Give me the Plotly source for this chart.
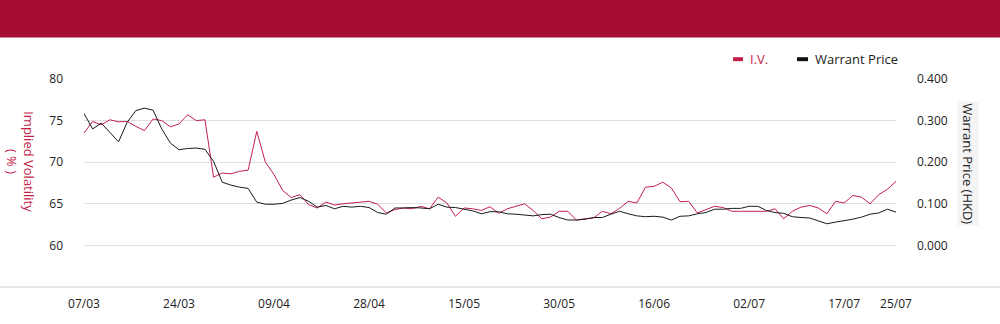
import plotly.graph_objects as go

dates = [
    "07/03", "10/03", "11/03", "12/03", "13/03", "14/03", "17/03", "18/03", "19/03", "20/03",
    "21/03", "24/03", "25/03", "26/03", "27/03", "28/03", "31/03", "01/04", "02/04", "03/04",
    "07/04", "08/04", "09/04", "10/04", "11/04", "14/04", "15/04", "16/04", "17/04", "22/04",
    "23/04", "24/04", "25/04", "28/04", "29/04", "30/04", "02/05", "06/05", "07/05", "08/05",
    "09/05", "12/05", "13/05", "14/05", "15/05", "16/05", "19/05", "20/05", "21/05", "22/05",
    "23/05", "26/05", "27/05", "28/05", "29/05", "30/05", "02/06", "03/06", "04/06", "05/06",
    "06/06", "09/06", "10/06", "11/06", "12/06", "13/06", "16/06", "17/06", "18/06", "19/06",
    "20/06", "23/06", "24/06", "25/06", "26/06", "27/06", "30/06", "02/07", "03/07", "04/07",
    "07/07", "08/07", "09/07", "10/07", "11/07", "14/07", "15/07", "16/07", "17/07", "18/07",
    "21/07", "22/07", "23/07", "24/07", "25/07",
]

iv = [
    73.5, 74.9, 74.5, 75.1, 74.85, 74.9, 74.3, 73.8, 75.2, 75.0,
    74.25, 74.6, 75.7, 75.0, 75.1, 68.2, 68.7, 68.6, 68.9, 69.05,
    73.7, 70.0, 68.5, 66.6, 65.75, 66.1, 64.9, 64.5, 65.2, 64.85,
    65.0, 65.1, 65.25, 65.3, 64.95, 63.9, 64.3, 64.5, 64.4, 64.7,
    64.4, 65.8, 65.1, 63.5, 64.5, 64.4, 64.2, 64.65, 63.85, 64.4,
    64.7, 65.0, 64.2, 63.2, 63.4, 64.1, 64.1, 63.05, 63.2, 63.3,
    64.1, 63.8, 64.45, 65.3, 65.1, 67.0, 67.1, 67.6, 66.9, 65.25,
    65.3, 63.9, 64.3, 64.7, 64.55, 64.1, 64.1, 64.1, 64.1, 64.1,
    64.4, 63.2, 64.1, 64.6, 64.8, 64.5, 63.8, 65.3, 65.1, 66.0,
    65.8, 65.0, 66.1, 66.75, 67.7,
]

price = [
    0.317, 0.280, 0.294, 0.272, 0.249, 0.296, 0.324, 0.330, 0.325, 0.280,
    0.246, 0.230, 0.233, 0.234, 0.231, 0.202, 0.152, 0.145, 0.140, 0.137,
    0.104, 0.099, 0.099, 0.101, 0.109, 0.115, 0.106, 0.092, 0.096, 0.088,
    0.094, 0.092, 0.094, 0.091, 0.079, 0.075, 0.090, 0.090, 0.091, 0.090,
    0.088, 0.099, 0.092, 0.091, 0.087, 0.083, 0.076, 0.081, 0.081, 0.076,
    0.075, 0.073, 0.071, 0.074, 0.075, 0.067, 0.061, 0.061, 0.063, 0.067,
    0.067, 0.075, 0.082, 0.076, 0.071, 0.069, 0.070, 0.068, 0.061, 0.070,
    0.071, 0.076, 0.079, 0.087, 0.087, 0.089, 0.089, 0.094, 0.094, 0.084,
    0.079, 0.077, 0.069, 0.067, 0.066, 0.059, 0.052, 0.056, 0.059, 0.063,
    0.068, 0.075, 0.078, 0.087, 0.080,
]

tick_labels = ["07/03", "24/03", "09/04", "28/04", "15/05", "30/05", "16/06", "02/07", "17/07", "25/07"]
iv_ticks = [60, 65, 70, 75, 80]
price_ticks = [0.0, 0.1, 0.2, 0.3, 0.4]

RED = "#c41f4a"
HEADER = "#a50d32"
FONT = "Open Sans"

W, H = 1000, 324
L, R, T, B = 84, 896, 79, 289


def px(x):
    return (x - L) / (R - L)


def py(y):
    return (B - y) / (B - T)


fig = go.Figure()
fig.add_trace(go.Scatter(x=dates, y=iv, mode="lines", name="I.V.",
                         line=dict(color=RED, width=1), yaxis="y"))
fig.add_trace(go.Scatter(x=dates, y=price, mode="lines", name="Warrant Price",
                         line=dict(color="#1a1a1a", width=1), yaxis="y2"))

shapes = [
    dict(type="rect", xref="paper", yref="paper", x0=px(-5), x1=px(1005),
         y0=py(37), y1=py(-5), fillcolor=HEADER, line=dict(width=0), layer="above"),
    dict(type="line", xref="paper", yref="paper", x0=px(0), x1=px(1000),
         y0=0, y1=0, line=dict(color="#cccccc", width=1)),
    dict(type="rect", xref="paper", yref="paper", x0=px(733), x1=px(743),
         y0=py(61), y1=py(57), fillcolor=RED, line=dict(width=0)),
    dict(type="rect", xref="paper", yref="paper", x0=px(797), x1=px(808),
         y0=py(61), y1=py(57), fillcolor="#111111", line=dict(width=0)),
]

annotations = [
    dict(text="I.V.", xref="paper", yref="paper", x=px(748), y=py(59),
         xanchor="left", yanchor="middle", showarrow=False,
         font=dict(family=FONT, size=13, color=RED)),
    dict(text="Warrant Price", xref="paper", yref="paper", x=px(813), y=py(59),
         xanchor="left", yanchor="middle", showarrow=False,
         font=dict(family=FONT, size=13, color="#222222")),
    dict(text="Implied Volatility<br>( % )", xref="paper", yref="paper",
         x=px(21), y=py(162), xanchor="center", yanchor="middle", showarrow=False,
         textangle=90, font=dict(family=FONT, size=13, color=RED)),
    dict(text="Warrant Price (HKD)", xref="paper", yref="paper",
         x=px(968), y=py(165), xanchor="center", yanchor="middle", showarrow=False,
         textangle=90, bgcolor="#f4f4f4", borderpad=1,
         font=dict(family=FONT, size=13, color="#222222")),
]

fig.update_layout(
    width=W, height=H,
    margin=dict(l=L, r=W - R, t=T, b=H - B, pad=0),
    paper_bgcolor="white", plot_bgcolor="white",
    showlegend=False,
    font=dict(family=FONT, size=12, color="#222222"),
    xaxis=dict(type="category", range=[0, len(dates) - 1],
               tickmode="array", tickvals=tick_labels, ticktext=tick_labels,
               showgrid=False, showline=False, zeroline=False, ticks="",
               ticklabelstandoff=8, tickangle=0,
               tickfont=dict(family=FONT, size=12, color="#222222")),
    yaxis=dict(range=[55, 80], tickmode="array", tickvals=iv_ticks,
               showgrid=True, gridcolor="#e0e0e0", gridwidth=1,
               zeroline=False, showline=False, ticks="",
               ticklabelstandoff=20,
               tickfont=dict(family=FONT, size=12, color="#222222")),
    yaxis2=dict(range=[-0.1, 0.4], tickmode="array", tickvals=price_ticks,
                tickformat=".3f", overlaying="y", side="right",
                showgrid=False, zeroline=False, showline=False, ticks="",
                ticklabelstandoff=20,
                tickfont=dict(family=FONT, size=12, color="#222222")),
    shapes=shapes,
    annotations=annotations,
)

fig.write_html("out.html", config={"displayModeBar": False})

with open("out.html", "r", encoding="utf-8") as f:
    html = f.read()
html = html.replace("<head>", "<head><style>html,body{margin:0;padding:0;overflow:hidden;}</style>", 1)
with open("out.html", "w", encoding="utf-8") as f:
    f.write(html)
